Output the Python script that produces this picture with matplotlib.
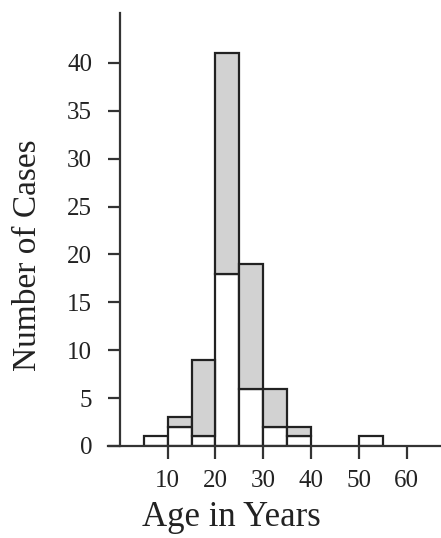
import matplotlib
matplotlib.use("Agg")
import matplotlib.pyplot as plt

bin_starts = [5, 10, 15, 20, 25, 30, 35, 50]
white_counts = [1, 2, 1, 18, 6, 2, 1, 1]
total_counts = [1, 3, 9, 41, 19, 6, 2, 1]
gray_counts = [t - w for t, w in zip(total_counts, white_counts)]
bin_width = 5
x_ticks = [10, 20, 30, 40, 50, 60]
y_ticks = [0, 5, 10, 15, 20, 25, 30, 35, 40]

plt.rcParams['font.family'] = ['Liberation Serif', 'DejaVu Serif']

fig = plt.figure(figsize=(4.41, 5.38), dpi=100)
ax = fig.add_axes([108/441, 1 - 446/538, (440-108)/441, (446-13)/538])

ax.bar(bin_starts, white_counts, width=bin_width, align='edge',
       color='white', edgecolor='#222222', linewidth=1.6, zorder=2)
gx = [b for b, g in zip(bin_starts, gray_counts) if g > 0]
gb = [w for w, g in zip(white_counts, gray_counts) if g > 0]
gh = [g for g in gray_counts if g > 0]
ax.bar(gx, gh, bottom=gb, width=bin_width, align='edge',
       color='#d2d2d2', edgecolor='#222222', linewidth=1.6, zorder=2)

ax.set_xlim(-2.5, 67)
ax.set_ylim(0, 45.2)
ax.spines['left'].set_position(('data', 0))
ax.spines['top'].set_visible(False)
ax.spines['right'].set_visible(False)
for s in ('left', 'bottom'):
    ax.spines[s].set_linewidth(1.6)
    ax.spines[s].set_color('#333333')
    ax.spines[s].set_zorder(3)

ax.set_xticks(x_ticks)
ax.set_yticks(y_ticks)
ax.tick_params(axis='both', direction='out', length=9, width=1.6,
               color='#333333', labelsize=18, labelcolor='#222222')
ax.tick_params(axis='x', pad=8)
ax.tick_params(axis='y', pad=11)

fig.text(231/441, 1 - 526/538, 'Age in Years', fontsize=25,
         color='#222222', ha='center', va='baseline')
fig.text(28/441, 1 - 255/538, 'Number of Cases', rotation=90, fontsize=24,
         color='#222222', ha='center', va='center')

fig.savefig('out.png', dpi=100)
